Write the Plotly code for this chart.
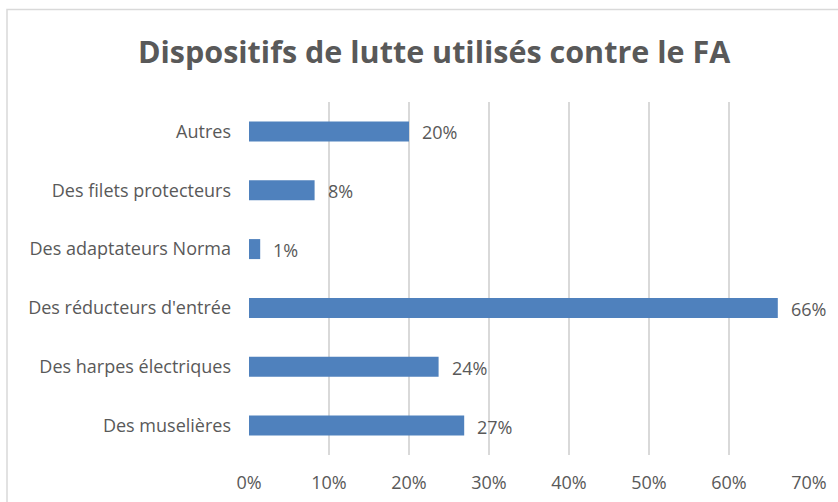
import plotly.graph_objects as go

categories = ["Des muselières", "Des harpes électriques", "Des réducteurs d'entrée",
              "Des adaptateurs Norma", "Des filets protecteurs", "Autres"]
values = [0.269, 0.237, 0.661, 0.014, 0.082, 0.200]
tick_vals = [0, 0.1, 0.2, 0.3, 0.4, 0.5, 0.6, 0.7]
tick_text = ["0%", "10%", "20%", "30%", "40%", "50%", "60%", "70%"]
title_text = "Dispositifs de lutte utilisés contre le FA"

FONT = "Open Sans, sans-serif"
GREY = "#595959"

fig = go.Figure()
fig.add_trace(go.Bar(
    x=values, y=categories, orientation="h",
    marker=dict(color="#4F81BD", line=dict(width=0)),
    width=0.34, hoverinfo="skip",
))

for v, c in zip(values, categories):
    fig.add_annotation(x=v, y=c, text=f"{round(v*100)}%", showarrow=False,
                       xanchor="left", xshift=11, yshift=-1,
                       font=dict(family=FONT, size=18, color=GREY))

fig.update_layout(
    width=838, height=502,
    margin=dict(l=249, r=29, t=102, b=47, autoexpand=False),
    paper_bgcolor="white", plot_bgcolor="white",
    showlegend=False,
    title=dict(text="<b>" + title_text + "</b>", x=0.518, xanchor="center",
               y=1 - 52 / 502, yanchor="middle",
               font=dict(family=FONT, size=30.5, color=GREY)),
    xaxis=dict(range=[0, 0.7], tickvals=tick_vals, ticktext=tick_text,
               showgrid=True, gridcolor="#D9D9D9", gridwidth=1.5,
               zeroline=False, showline=False, ticks="", automargin=False,
               tickfont=dict(family=FONT, size=18, color=GREY), ticklabelstandoff=15),
    yaxis=dict(categoryorder="array", categoryarray=categories,
               showgrid=False, zeroline=False, showline=False, ticks="", automargin=False,
               tickfont=dict(family=FONT, size=18, color=GREY), ticklabelstandoff=17),
    shapes=[dict(type="rect", xref="paper", yref="paper",
                 x0=(7 - 249) / 560, x1=(838 - 249 + 10) / 560,
                 y0=-60 / 353, y1=1 + (102 - 9.5) / 353,
                 line=dict(color="#D9D9D9", width=1.5), layer="below")],
)

fig.write_html("out.html", config={"displayModeBar": False},
               post_script="document.body.style.margin='0';")
